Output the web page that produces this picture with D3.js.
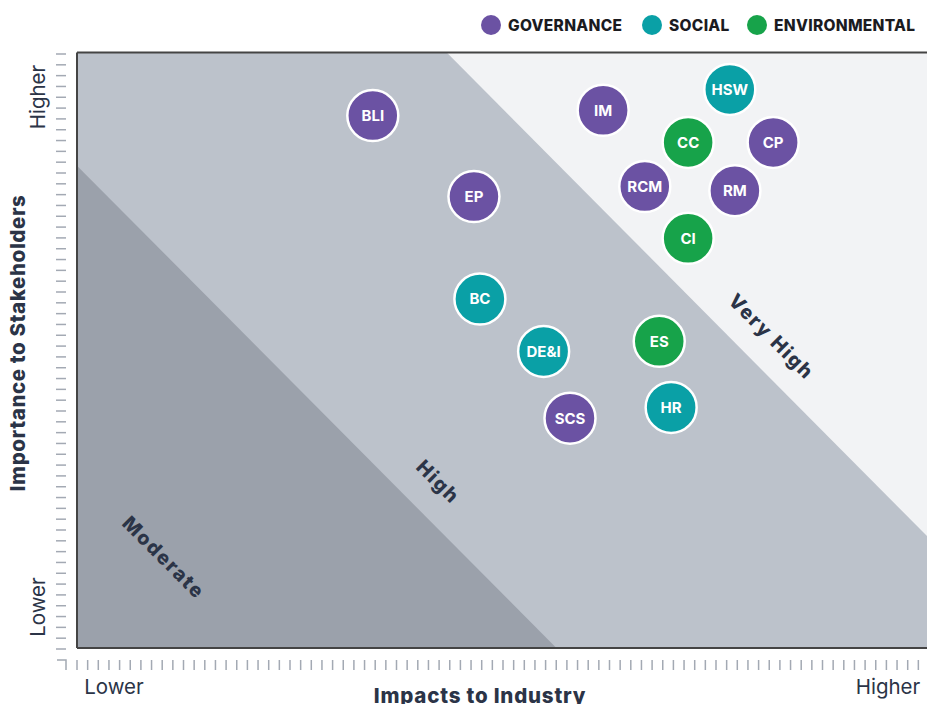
<!DOCTYPE html>
<html>
<head>
<meta charset="utf-8">
<script src="https://cdn.jsdelivr.net/npm/d3@7"></script>
<style>
html,body{margin:0;padding:0;background:#fff;}
svg{display:block;}
text{font-family:Inter,"Open Sans",sans-serif;}
</style>
</head>
<body>
<svg id="chart" width="927" height="704"></svg>
<script>
// ---- data ----
const categories = ["Governance", "Social", "Environmental"];
const categoryColors = ["#6b52a3", "#0aa0a6", "#17a34a"];
const topics = ["BLI","IM","HSW","CC","CP","RCM","RM","EP","CI","BC","DE&I","ES","HR","SCS"];
const topicCategory = ["Governance","Governance","Social","Environmental","Governance","Governance","Governance","Governance","Environmental","Social","Social","Environmental","Social","Governance"];
const industryImpact = [34.8, 61.9, 76.8, 71.9, 81.9, 66.8, 77.4, 46.7, 71.9, 47.4, 54.9, 68.5, 69.9, 58.0];
const stakeholderImportance = [89.4, 90.3, 93.8, 84.9, 84.9, 77.5, 76.8, 75.8, 68.8, 58.6, 49.8, 51.5, 40.4, 38.6];
const zoneNames = ["Moderate", "High", "Very High"];
const moderateZone = [[0,0],[0,81],[56.4,0]];
const veryHighZone = [[43.5,100],[100,100],[100,18.8]];
const axisTickLabels = ["Lower", "Higher"];

// ---- layout ----
const svg = d3.select("#chart");
const L = 77, R = 927, T = 52.5, B = 648;
const x = d3.scaleLinear().domain([0,100]).range([L,R]);
const y = d3.scaleLinear().domain([0,100]).range([B,T]);
const color = d3.scaleOrdinal().domain(categories).range(categoryColors);
const ink = "#2b3447";

// legend
const legendX = [491, 652, 757];
categories.forEach((c,i)=>{
  svg.append("circle").attr("cx",legendX[i]).attr("cy",25).attr("r",10).attr("fill",color(c));
  svg.append("text").attr("x",legendX[i]+17).attr("y",31)
    .attr("font-size",15.5).attr("font-weight",800).attr("fill","#1b1b1f")
    .attr("letter-spacing",0.3).text(c.toUpperCase());
});

// zones
svg.append("rect").attr("x",L).attr("y",T).attr("width",R-L).attr("height",B-T).attr("fill","#bcc2cb");
const line = d3.line().x(d=>x(d[0])).y(d=>y(d[1]));
svg.append("path").attr("d",line(veryHighZone)+"Z").attr("fill","#f2f3f5");
svg.append("path").attr("d",line(moderateZone)+"Z").attr("fill","#9ba1ab");

// border
svg.append("line").attr("x1",L).attr("x2",R).attr("y1",T).attr("y2",T).attr("stroke","#444").attr("stroke-width",2);
svg.append("line").attr("x1",L).attr("x2",R).attr("y1",B).attr("y2",B).attr("stroke","#444").attr("stroke-width",2);
svg.append("line").attr("x1",L).attr("x2",L).attr("y1",T).attr("y2",B).attr("stroke","#444").attr("stroke-width",2);

// zone labels
const zoneLabelPos = [[10.2,15.2],[42.5,27.9],[81.7,52.3]];
zoneNames.forEach((z,i)=>{
  svg.append("text").attr("transform",`translate(${x(zoneLabelPos[i][0])},${y(zoneLabelPos[i][1])}) rotate(45)`)
    .attr("text-anchor","middle").attr("dy","0.35em")
    .attr("font-size",19.5).attr("font-weight",800).attr("letter-spacing",1.8).attr("fill",ink).text(z);
});

// minor ticks (y)
const yTicks = d3.range(0,56).map(i=> B+1 - i*(595/55));
svg.append("g").selectAll("line").data(yTicks).join("line")
  .attr("x1",56).attr("x2",66).attr("y1",d=>d).attr("y2",d=>d)
  .attr("stroke","#a3a9b3").attr("stroke-width",1.5);
const xTicks = d3.range(0,80).map(i=> 77 + i*10.65);
svg.append("g").selectAll("line").data(xTicks).join("line")
  .attr("x1",d=>d).attr("x2",d=>d).attr("y1",660).attr("y2",670)
  .attr("stroke","#a3a9b3").attr("stroke-width",1.5);
svg.append("path").attr("d","M57,660H66V670").attr("fill","none").attr("stroke","#a3a9b3").attr("stroke-width",1.5);

// tick labels
svg.append("text").attr("x",114).attr("y",694).attr("text-anchor","middle").attr("font-size",20.5).attr("fill",ink).text(axisTickLabels[0]);
svg.append("text").attr("x",888).attr("y",694).attr("text-anchor","middle").attr("font-size",20.5).attr("fill",ink).text(axisTickLabels[1]);
svg.append("text").attr("transform","translate(45,607) rotate(-90)").attr("text-anchor","middle").attr("font-size",20.5).attr("fill",ink).text(axisTickLabels[0]);
svg.append("text").attr("transform","translate(45,97) rotate(-90)").attr("text-anchor","middle").attr("font-size",20.5).attr("fill",ink).text(axisTickLabels[1]);

// axis titles
svg.append("text").attr("x",480).attr("y",703).attr("text-anchor","middle").attr("font-size",20.5).attr("font-weight",800).attr("letter-spacing",0.8).attr("fill",ink).text("Impacts to Industry");
svg.append("text").attr("transform","translate(25,343) rotate(-90)").attr("text-anchor","middle").attr("font-size",20.5).attr("font-weight",800).attr("letter-spacing",0.6).attr("fill",ink).text("Importance to Stakeholders");

// bubbles
const data = topics.map((t,i)=>({t, c:topicCategory[i], x:industryImpact[i], y:stakeholderImportance[i]}));
const g = svg.append("g").selectAll("g").data(data).join("g")
  .attr("transform",d=>`translate(${x(d.x)},${y(d.y)})`);
g.append("circle").attr("r",25.5).attr("fill",d=>color(d.c)).attr("stroke","#fff").attr("stroke-width",2.5);
g.append("text").attr("text-anchor","middle").attr("dy","0.36em")
  .attr("font-size",15).attr("font-weight",700).attr("fill","#fff").text(d=>d.t);
</script>
</body>
</html>
